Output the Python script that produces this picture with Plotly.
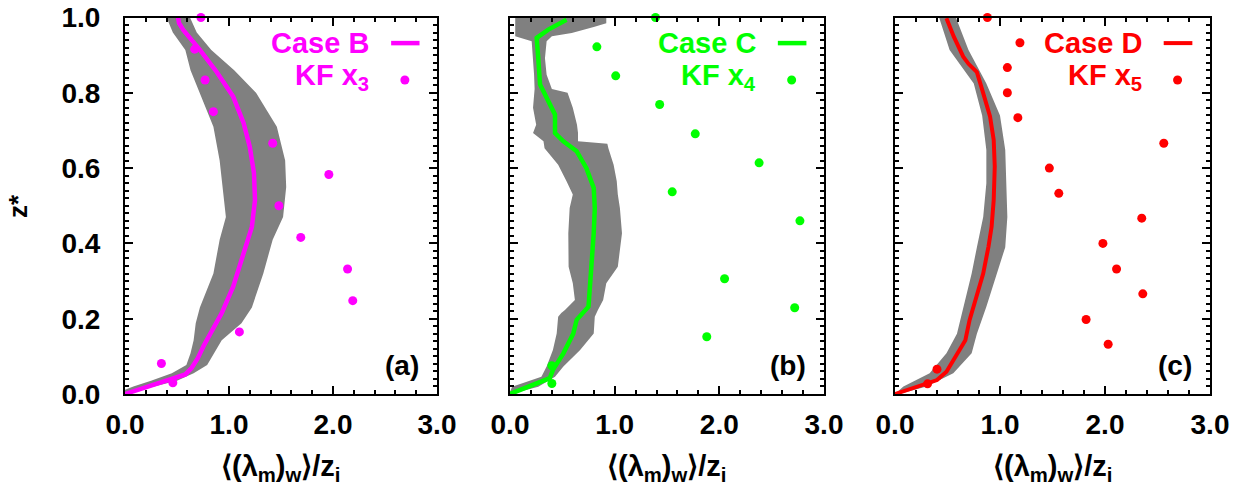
import plotly.graph_objects as go

# ---------------- data ----------------
# Panel (a): Case B
b_line_x = [0.0, 0.27, 0.45, 0.58, 0.64, 0.70, 0.76, 0.82, 0.93, 1.04, 1.10, 1.17, 1.22, 1.25, 1.24, 1.20, 1.14, 1.04, 0.88, 0.72, 0.56, 0.52, 0.51]
b_line_y = [0.0, 0.024, 0.038, 0.052, 0.069, 0.095, 0.13, 0.162, 0.215, 0.285, 0.338, 0.409, 0.444, 0.515, 0.587, 0.656, 0.72, 0.79, 0.856, 0.914, 0.967, 0.985, 1.0]
b_band_y = [0.0, 0.011, 0.02, 0.035, 0.055, 0.077, 0.108, 0.143, 0.188, 0.23, 0.32, 0.41, 0.47, 0.55, 0.62, 0.71, 0.80, 0.86, 0.914, 0.96, 1.0]
b_band_lo = [0.0, 0.0, 0.08, 0.25, 0.45, 0.59, 0.63, 0.66, 0.68, 0.72, 0.85, 0.91, 0.97, 0.94, 0.91, 0.85, 0.72, 0.63, 0.58, 0.46, 0.40]
b_band_hi = [0.05, 0.14, 0.28, 0.50, 0.66, 0.79, 0.86, 0.93, 1.12, 1.22, 1.33, 1.42, 1.52, 1.55, 1.54, 1.46, 1.26, 1.05, 0.83, 0.69, 0.625]
b_kf_x = [0.73, 0.67, 0.77, 0.85, 1.42, 1.96, 1.48, 1.69, 2.14, 2.19, 1.10, 0.35, 0.46]
b_kf_y = [1.0, 0.916, 0.834, 0.75, 0.666, 0.583, 0.50, 0.416, 0.332, 0.248, 0.165, 0.081, 0.03]

# Panel (b): Case C
c_line_x = [0.0, 0.38, 0.41, 0.51, 0.605, 0.637, 0.75, 0.78, 0.80, 0.81, 0.80, 0.73, 0.637, 0.51, 0.43, 0.43, 0.366, 0.287, 0.27, 0.255, 0.366, 0.54]
c_line_y = [0.0, 0.042, 0.064, 0.108, 0.161, 0.197, 0.232, 0.338, 0.427, 0.494, 0.547, 0.60, 0.645, 0.671, 0.693, 0.742, 0.777, 0.822, 0.892, 0.946, 0.968, 0.994]
c_band_y = [0.0, 0.005, 0.019, 0.046, 0.073, 0.117, 0.161, 0.205, 0.215, 0.223, 0.25, 0.294, 0.338, 0.427, 0.494, 0.53, 0.565, 0.609, 0.653, 0.665, 0.671, 0.693, 0.715, 0.76, 0.80, 0.81, 0.848, 0.892, 0.937, 0.95, 0.959, 0.975, 0.985, 1.0, 1.012]
c_band_lo = [0.0, 0.0, 0.02, 0.30, 0.35, 0.41, 0.446, 0.46, 0.49, 0.525, 0.62, 0.60, 0.56, 0.557, 0.57, 0.60, 0.54, 0.46, 0.33, 0.32, 0.32, 0.22, 0.25, 0.22, 0.235, 0.235, 0.23, 0.22, 0.207, 0.05, 0.05, 0.05, 0.05, 0.05, 0.07]
c_band_hi = [0.05, 0.08, 0.27, 0.43, 0.51, 0.67, 0.80, 0.81, 0.83, 0.84, 0.89, 0.92, 1.03, 1.07, 1.05, 1.03, 1.02, 0.99, 0.94, 0.93, 0.65, 0.65, 0.64, 0.60, 0.55, 0.40, 0.35, 0.334, 0.35, 0.40, 0.59, 0.80, 0.92, 0.92, 0.90]
c_kf_x = [1.39, 0.83, 1.01, 1.43, 1.77, 2.38, 1.55, 2.77, 2.05, 2.72, 1.88, 0.40, 0.40]
c_kf_y = [1.0, 0.922, 0.845, 0.769, 0.691, 0.614, 0.537, 0.46, 0.306, 0.229, 0.152, 0.075, 0.028]

# Panel (c): Case D
d_line_x = [0.0, 0.40, 0.49, 0.59, 0.67, 0.71, 0.78, 0.84, 0.89, 0.92, 0.94, 0.95, 0.94, 0.905, 0.84, 0.78, 0.70, 0.65, 0.56, 0.49]
d_line_y = [0.0, 0.037, 0.059, 0.108, 0.143, 0.196, 0.258, 0.32, 0.391, 0.444, 0.515, 0.604, 0.675, 0.737, 0.799, 0.855, 0.877, 0.896, 0.949, 0.998]
d_band_y = [0.0, 0.02, 0.055, 0.108, 0.16, 0.232, 0.32, 0.39, 0.47, 0.56, 0.648, 0.74, 0.825, 0.914, 1.0]
d_band_lo = [0.0, 0.08, 0.33, 0.49, 0.59, 0.65, 0.73, 0.78, 0.84, 0.87, 0.87, 0.83, 0.75, 0.52, 0.42]
d_band_hi = [0.04, 0.30, 0.555, 0.73, 0.78, 0.87, 0.97, 1.05, 1.07, 1.06, 1.05, 1.00, 0.87, 0.70, 0.58]
d_kf_x = [0.88, 1.19, 1.07, 1.07, 1.17, 2.56, 1.47, 1.56, 2.35, 1.98, 2.11, 2.36, 1.82, 2.03, 0.40, 0.31]
d_kf_y = [1.0, 0.933, 0.867, 0.80, 0.734, 0.666, 0.60, 0.533, 0.467, 0.40, 0.332, 0.266, 0.198, 0.132, 0.066, 0.027]

x_tick_vals = [0, 1, 2, 3]
x_tick_text = ["0.0", "1.0", "2.0", "3.0"]
y_tick_vals = [0.0, 0.2, 0.4, 0.6, 0.8, 1.0]
y_tick_text = ["0.0", "0.2", "0.4", "0.6", "0.8", "1.0"]

case_names = ["Case B", "Case C", "Case D"]
kf_names = ["KF x<sub>3</sub>", "KF x<sub>4</sub>", "KF x<sub>5</sub>"]
panel_labels = ["(a)", "(b)", "(c)"]
colors = ["#FF00FF", "#00FF00", "#FF0000"]
line_widths = [4.5, 4.5, 4]

panels = [
    (b_line_x, b_line_y, b_band_y, b_band_lo, b_band_hi, b_kf_x, b_kf_y),
    (c_line_x, c_line_y, c_band_y, c_band_lo, c_band_hi, c_kf_x, c_kf_y),
    (d_line_x, d_line_y, d_band_y, d_band_lo, d_band_hi, d_kf_x, d_kf_y),
]

W, H = 1243, 492
x_dom_px = [(125, 437), (510, 824), (895, 1210)]
y_top_px, y_bot_px = 17.5, 394
FONT = "Liberation Sans, Arial, Helvetica, sans-serif"

fig = go.Figure()
layout = dict(
    template="none",
    width=W, height=H,
    margin=dict(l=0, r=0, t=0, b=0, pad=0, autoexpand=False),
    paper_bgcolor="white", plot_bgcolor="white",
    showlegend=False,
    font=dict(family=FONT, color="black"),
)
annotations = []
shapes = []

for i, (lx, ly, by, blo, bhi, kx, ky) in enumerate(panels):
    n = "" if i == 0 else str(i + 1)
    xa, ya = "x" + n, "y" + n
    col = colors[i]
    # band
    fig.add_trace(go.Scatter(
        x=list(blo) + list(bhi)[::-1], y=list(by) + list(by)[::-1],
        xaxis=xa, yaxis=ya, mode="lines", fill="toself",
        fillcolor="#808080", line=dict(width=0, color="#808080"),
        hoverinfo="skip"))
    # line
    fig.add_trace(go.Scatter(
        x=lx, y=ly, xaxis=xa, yaxis=ya, mode="lines",
        line=dict(color=col, width=line_widths[i]), name=case_names[i]))
    # KF points
    fig.add_trace(go.Scatter(
        x=kx, y=ky, xaxis=xa, yaxis=ya, mode="markers",
        marker=dict(color=col, size=9, line=dict(width=0)), cliponaxis=False, name=kf_names[i]))

    x0, x1 = x_dom_px[i]
    common = dict(
        automargin=False,
        showline=True, linecolor="black", linewidth=2, mirror="allticks",
        ticks="inside", ticklen=8, tickwidth=1.5, tickcolor="black",
        showgrid=False, zeroline=False,
        tickfont=dict(family=FONT, size=28, color="black", weight="bold"),
    )
    layout["xaxis" + n] = dict(
        common, domain=[x0 / W, x1 / W], anchor=ya, range=[0, 3],
        tickmode="array", tickvals=x_tick_vals, ticktext=x_tick_text,
        ticklabelstandoff=4,
        minor=dict(dtick=0.2, ticks="inside", ticklen=4, tickwidth=1.5, tickcolor="black"),
    )
    layout["yaxis" + n] = dict(
        common, domain=[1 - y_bot_px / H, 1 - y_top_px / H], anchor=xa, range=[0, 1],
        tickmode="array", tickvals=y_tick_vals, ticktext=y_tick_text,
        showticklabels=(i == 0), ticklabelstandoff=17,
        minor=dict(dtick=0.02, ticks="inside", ticklen=4, tickwidth=1.5, tickcolor="black"),
    )

    # legend texts
    annotations.append(dict(
        xref=xa + " domain", yref=ya + " domain", x=0.79, y=0.932,
        xanchor="right", yanchor="middle", showarrow=False,
        text="<b>" + case_names[i] + "</b>",
        font=dict(family=FONT, size=29, color=col)))
    annotations.append(dict(
        xref=xa + " domain", yref=ya + " domain", x=0.79, y=0.843,
        xanchor="right", yanchor="middle", showarrow=False,
        text="<b>" + kf_names[i] + "</b>",
        font=dict(family=FONT, size=29, color=col)))
    shapes.append(dict(
        type="line", xref=xa + " domain", yref=ya + " domain",
        x0=0.853, x1=0.944, y0=0.932, y1=0.932,
        line=dict(color=col, width=line_widths[i])))
    shapes.append(dict(
        type="circle", xref=xa + " domain", yref=ya + " domain",
        xsizemode="pixel", ysizemode="pixel", xanchor=0.897, yanchor=0.834,
        x0=-4.5, x1=4.5, y0=-4.5, y1=4.5,
        fillcolor=col, line=dict(width=0)))
    # panel label
    annotations.append(dict(
        xref=xa + " domain", yref=ya + " domain", x=0.95, y=0.077,
        xanchor="right", yanchor="middle", showarrow=False,
        text="<b>" + panel_labels[i] + "</b>",
        font=dict(family=FONT, size=28, color="black")))
    # x-axis title
    annotations.append(dict(
        xref="paper", yref="paper", x=((x0 + x1) / 2) / W, y=1 - 468 / H,
        xanchor="center", yanchor="middle", showarrow=False,
        text="<b>\u27e8(\u03bb<sub>m</sub>)<sub>w</sub>\u27e9/z<sub>i</sub></b>",
        font=dict(family=FONT, size=29, color="black")))

# y-axis title
annotations.append(dict(
    xref="paper", yref="paper", x=18 / W, y=1 - 206 / H,
    xanchor="center", yanchor="middle", showarrow=False, textangle=-90,
    text="<b>z*</b>", font=dict(family=FONT, size=26, color="black")))

layout["annotations"] = annotations
layout["shapes"] = shapes
fig.update_layout(**layout)
fig.write_html("out.html")
